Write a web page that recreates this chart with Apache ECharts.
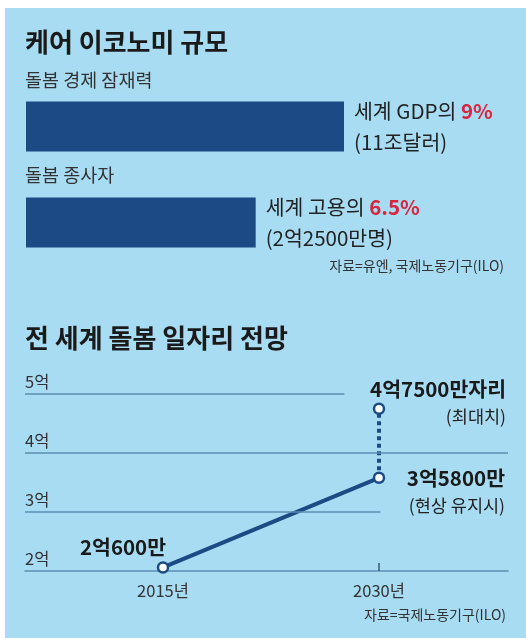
<!DOCTYPE html>
<html><head><meta charset="utf-8">
<script src="https://cdn.jsdelivr.net/npm/echarts@6/dist/echarts.min.js"></script>
<style>html,body{margin:0;padding:0;background:#fff;}#c{width:526px;height:638px;}</style>
</head><body><div id="c"></div>
<script>
// --- data ---
const barCategories = ['돌봄 경제 잠재력', '돌봄 종사자'];
const barShares = [9, 6.5];
const barPrefixes = ['세계 GDP의', '세계 고용의'];
const barAmounts = ['11조달러', '2억2500만명'];

const years = [2015, 2030];
const jobsCurrent = [2.06, 3.58];      // 억
const jobsMax = [3.58, 4.75];          // 2030 range (억)
const jobLabels = ['2억600만', '3억5800만', '4억7500만자리'];
const jobNotes = ['현상 유지시', '최대치'];
const yTicks = [2, 3, 4, 5];

const F = "'Noto Sans CJK KR', 'Noto Sans', sans-serif";
const NAVY = '#1b4a84';
const GRID = '#5b8fb0';
const catTops = [71, 166];

const chart = echarts.init(document.getElementById('c'));
chart.setOption({
  animation: false,
  textStyle: { fontFamily: F },
  graphic: [{ type: 'rect', shape: { x: 5, y: 8, width: 521, height: 630 }, style: { fill: '#a7dcf3' }, z: -10, silent: true }],
  title: [
    { text: '케어 이코노미 규모', left: 25, top: 29, padding: 0, textStyle: { fontFamily: F, fontSize: 26, fontWeight: 'bold', color: '#1a1a1a' } },
    { text: '전 세계 돌봄 일자리 전망', left: 25, top: 325, padding: 0, textStyle: { fontFamily: F, fontSize: 26, fontWeight: 'bold', color: '#1a1a1a' } },
    { text: '자료=유엔, 국제노동기구(ILO)', right: 22, top: 259, padding: 0, textStyle: { fontFamily: F, fontSize: 14, fontWeight: 'normal', color: '#333' } },
    { text: '자료=국제노동기구(ILO)', right: 20, top: 608, padding: 0, textStyle: { fontFamily: F, fontSize: 14, fontWeight: 'normal', color: '#333' } }
  ].concat(barCategories.map((c, i) => ({
    text: c, left: 25, top: catTops[i], padding: 0,
    textStyle: { fontFamily: F, fontSize: 18.5, fontWeight: 'normal', color: '#333' }
  }))),
  grid: [
    { left: 26, top: 78.5, width: 494.67, height: 192 },
    { left: 25, top: 394, width: 483, height: 177 }
  ],
  xAxis: [
    { gridIndex: 0, type: 'value', min: 0, max: 14, show: false },
    { gridIndex: 1, type: 'value', min: 2005.4167, max: 2038.9583,
      splitLine: { show: false },
      axisLine: { show: true, lineStyle: { color: GRID, width: 1.5 } },
      axisTick: { show: true, inside: true, length: 8, customValues: [2030], lineStyle: { color: '#3d5a75', width: 1.5 } },
      axisLabel: { customValues: years, margin: 11, fontSize: 16.5, color: '#333', fontFamily: F, formatter: v => v + '년' }
    }
  ],
  yAxis: [
    { gridIndex: 0, type: 'category', data: barCategories, inverse: true, show: false },
    { gridIndex: 1, type: 'value', min: 2, max: 5, interval: 1,
      axisLine: { show: false }, axisTick: { show: false }, splitLine: { show: false },
      axisLabel: { inside: true, margin: 0, align: 'left', verticalAlign: 'bottom', padding: [0, 0, 4, 0], fontSize: 16.5, color: '#333', fontFamily: F,
        showMinLabel: true, showMaxLabel: true, formatter: v => v + '억' }
    }
  ],
  series: [
    { type: 'bar', xAxisIndex: 0, yAxisIndex: 0, barWidth: 50, silent: true,
      itemStyle: { color: NAVY },
      data: barShares.map((v, i) => ({ value: v,
        label: { show: true, position: 'right', distance: 10,
          formatter: '{a|' + barPrefixes[i] + ' }{r|' + v + '%}\n{a|(' + barAmounts[i] + ')}',
          rich: {
            a: { fontFamily: F, fontSize: 20.5, color: '#222', lineHeight: 31 },
            r: { fontFamily: F, fontSize: 20.5, fontWeight: 'bold', color: '#d7263d', lineHeight: 31 }
          } } }))
    },
    { type: 'line', xAxisIndex: 1, yAxisIndex: 1, silent: true, z: 2,
      symbol: 'none',
      lineStyle: { opacity: 0 },
      data: [],
      markLine: { silent: true, symbol: 'none', label: { show: false },
        lineStyle: { type: 'solid', color: GRID, width: 1.5 },
        data: [
          [{ coord: [2005.4167, yTicks[3]] }, { coord: [2027.6, yTicks[3]] }],
          [{ coord: [2005.4167, yTicks[2]] }, { coord: [2038.9583, yTicks[2]] }],
          [{ coord: [2005.4167, yTicks[1]] }, { coord: [2030.1, yTicks[1]] }]
        ] }
    },
    { type: 'line', xAxisIndex: 1, yAxisIndex: 1, silent: true, z: 3,
      lineStyle: { color: NAVY, width: 4, type: [4, 3.5] },
      symbol: 'circle', symbolSize: 10,
      itemStyle: { color: '#fff', borderColor: NAVY, borderWidth: 2.5 },
      data: [
        { value: [years[1], jobsMax[0]], symbol: 'none' },
        { value: [years[1], jobsMax[1]],
          label: { show: true, position: 'inside', align: 'right', verticalAlign: 'middle', offset: [127, -6],
            formatter: '{b|' + jobLabels[2] + '}\n{n|(' + jobNotes[1] + ')}',
            rich: { b: { fontFamily: F, fontSize: 20.5, fontWeight: 'bold', color: '#1a1a1a', lineHeight: 27, align: 'right' },
                    n: { fontFamily: F, fontSize: 17.5, color: '#222', lineHeight: 27, align: 'right' } } } }
      ]
    },
    { type: 'line', xAxisIndex: 1, yAxisIndex: 1, silent: true, z: 4,
      lineStyle: { color: NAVY, width: 4 },
      symbol: 'circle', symbolSize: 10,
      itemStyle: { color: '#fff', borderColor: NAVY, borderWidth: 2.5 },
      data: [
        { value: [years[0], jobsCurrent[0]],
          label: { show: true, position: 'inside', align: 'center', verticalAlign: 'middle', offset: [-40, -20],
            formatter: '{b|' + jobLabels[0] + '}',
            rich: { b: { fontFamily: F, fontSize: 20.5, fontWeight: 'bold', color: '#1a1a1a' } } } },
        { value: [years[1], jobsCurrent[1]],
          label: { show: true, position: 'inside', align: 'right', verticalAlign: 'middle', offset: [126, 14],
            formatter: '{b|' + jobLabels[1] + '}\n{n|(' + jobNotes[0] + ')}',
            rich: { b: { fontFamily: F, fontSize: 20.5, fontWeight: 'bold', color: '#1a1a1a', lineHeight: 27, align: 'right' },
                    n: { fontFamily: F, fontSize: 17.5, color: '#222', lineHeight: 27, align: 'right' } } } }
      ]
    }
  ]
});
</script></body></html>
